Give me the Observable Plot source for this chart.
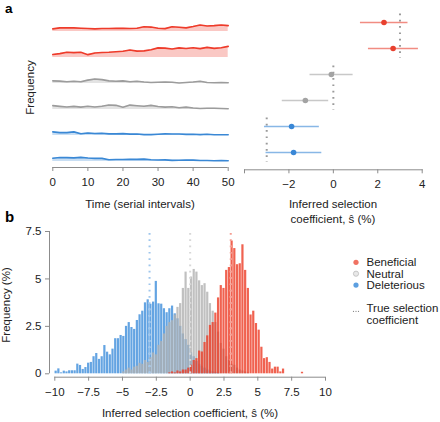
<!DOCTYPE html>
<html><head><meta charset="utf-8">
<script src="https://cdn.jsdelivr.net/npm/d3@7"></script>
<script src="https://cdn.jsdelivr.net/npm/@observablehq/plot@0.6"></script>
<style>
body{margin:0;background:#fff;}
#root{position:relative;width:440px;height:422px;overflow:hidden;}
#root svg{position:absolute;}
</style></head><body><div id="root"></div>
<script>
// ---------- DATA ----------
const types = ["Beneficial", "Neutral", "Deleterious"];
const rowIds = ["b1", "b2", "n1", "n2", "d1", "d2"];
const rowTypes = ["Beneficial", "Beneficial", "Neutral", "Neutral", "Deleterious", "Deleterious"];

// panel a, left: allele frequency (%) over time (serial intervals)
const times = [0,2,4,6,8,10,12,14,16,18,20,22,24,26,28,30,32,34,36,38,40,42,44,46,48,50];
const freqB1 = [5.0,7.0,6.9,6.9,6.3,5.7,5.0,5.7,5.7,6.0,6.3,5.7,6.3,9.0,8.5,6.3,5.5,9.0,8.3,7.0,9.5,12.5,10.7,11.3,12.5,11.3];
const freqB2 = [5.7,7.5,10.0,9.4,10.0,5.5,8.8,9.7,10.0,11.0,12.0,14.5,12.3,12.8,15.0,18.5,18.0,16.3,18.5,17.3,18.9,17.0,19.5,17.6,18.9,21.4];
const freqN1 = [5.0,4.5,3.3,4.2,3.3,6.5,8.8,7.5,5.0,4.4,5.0,3.3,4.2,2.8,2.0,2.5,2.8,2.5,1.0,2.0,3.0,4.4,1.8,1.5,2.0,1.3];
const freqN2 = [7.5,6.0,4.8,6.0,4.6,6.3,4.8,6.3,8.8,8.0,4.2,8.5,7.3,6.3,8.0,5.8,4.6,5.4,3.5,4.5,3.0,2.0,2.4,2.5,1.9,1.3];
const freqD1 = [6.9,5.5,5.5,7.0,3.4,4.8,3.9,4.4,3.1,3.2,3.6,2.7,2.8,1.7,1.6,2.4,3.1,2.8,2.9,2.2,2.4,1.6,2.3,1.5,1.3,1.3];
const freqD2 = [6.3,7.8,7.5,6.9,8.0,6.6,6.0,6.0,3.3,3.8,3.9,4.3,4.0,4.6,3.3,3.0,3.2,2.2,2.3,2.9,2.7,2.0,1.9,1.4,1.8,1.3];
const timeTicks = [0,10,20,30,40,50];

// panel a, right: inferred selection coefficient (%) with intervals
const sHat = [2.28, 2.69, -0.09, -1.26, -1.88, -1.79];
const ciLow = [1.22, 1.58, -1.05, -2.30, -3.10, -3.03];
const ciHigh = [3.36, 3.83, 0.89, -0.21, -0.63, -0.52];
const trueS = [3, 0, -3];
const trueRows = [["b1","b2"], ["n1","n2"], ["d1","d2"]];
const sTicks = [-4, -2, 0, 2, 4];

// panel b: histogram of inferred s (%), bins of 0.2
const binWidth = 0.2;
const delStart = -10;
const delFreq = [0.14,0.26,0.05,0.14,0.10,0.16,0.16,0.16,0.51,0.44,0.23,0.33,0.56,0.60,0.90,1.07,0.76,0.90,1.49,1.14,1.00,1.30,1.85,1.85,2.02,1.97,2.50,2.70,2.44,2.34,2.81,3.11,3.30,3.74,3.90,3.67,3.78,4.87,3.69,3.67,3.43,3.22,3.43,3.57,3.16,2.90,2.50,2.10,1.80,1.50,1.10,0.90,0.65,0.50,0.40,0.30,0.20,0.15,0.10,0.08,0.05];
const neuStart = -5;
const neuFreq = [0.10,0.20,0.30,0.20,0.35,0.40,0.55,0.50,0.70,0.60,0.85,1.10,1.00,1.50,1.70,2.10,2.50,2.70,2.80,3.10,3.50,3.70,4.50,5.36,4.50,5.10,5.50,5.36,4.90,4.65,4.75,4.30,3.70,3.30,2.70,2.20,1.60,1.30,0.90,0.70,0.50,0.45,0.30,0.20,0.15,0.10,0.05];
const benStart = -1.6;
const benFreq = [0.05,0.10,0.05,0.15,0.10,0.20,0.20,0.30,0.45,0.70,0.80,1.20,1.15,1.65,2.00,2.55,2.70,3.20,4.00,4.65,4.50,5.45,5.60,7.00,6.60,5.75,5.80,6.80,5.45,4.50,3.10,3.30,2.65,2.30,1.40,0.80,0.85,0.60,0.25,0.35,0.35,0.10,0.25,0,0,0,0,0,0,0.08];
const histTicksX = [-10,-7.5,-5,-2.5,0,2.5,5,7.5,10];
const histTicksY = [0,2.5,5,7.5];

// ---------- STYLE ----------
const ff = '"Liberation Sans", Arial, Helvetica, sans-serif';
const textColor = "#222";
const axisGrey = "#8c8c8c";
const baseStyle = {fontFamily: ff, fontSize: "11.5px", color: textColor, background: "transparent", overflow: "visible"};
const tsColors = ["#ee3b2a", "#9c9c9c", "#3a88d5"];
const dotColors = ["#e8402e", "#a3a3a3", "#3987d6"];
const histColors = ["#ec3b24", "#b0b0b0", "#3d8ddb"];
const fmt = d => (d < 0 ? "\u2212" : "") + Math.abs(d);

// ---------- TABLES ----------
const series = [freqB1, freqB2, freqN1, freqN2, freqD1, freqD2];
const tsTable = rowIds.flatMap((id, i) => times.map((t, j) => ({row: id, type: rowTypes[i], t, f: series[i][j]})));
const dotTable = rowIds.map((id, i) => ({row: id, type: rowTypes[i], s: sHat[i], lo: ciLow[i], hi: ciHigh[i]}));
const trueTable = types.map((t, i) => ({type: t, s: trueS[i], r1: trueRows[i][0], r2: trueRows[i][1]}));
const histSpec = [["Deleterious", delStart, delFreq], ["Neutral", neuStart, neuFreq], ["Beneficial", benStart, benFreq]];
const histTable = histSpec.flatMap(([type, start, fr]) => fr.map((v, k) => ({type, x1: start + k * binWidth, x2: start + (k + 1) * binWidth, freq: v}))).filter(d => d.freq > 0);

const root = document.getElementById("root");
function place(el, left, top) { el.style.left = left + "px"; el.style.top = top + "px"; root.appendChild(el); }

// ---------- PANEL a, left ----------
const left = Plot.plot({
  width: 234, height: 195,
  marginLeft: 52.3, marginRight: 6.3, marginTop: 3.3, marginBottom: 31.7,
  style: baseStyle,
  x: {domain: [times[0], times[times.length - 1]]},
  y: {domain: [0, 50], axis: null},
  fy: {domain: rowIds, padding: 0, axis: null},
  color: {domain: types, range: tsColors},
  marks: [
    Plot.areaY(tsTable, {x: "t", y1: 0, y2: "f", fy: "row", fill: "type", fillOpacity: 0.28}),
    Plot.lineY(tsTable, {x: "t", y: "f", fy: "row", stroke: "type", strokeWidth: 1.6}),
    Plot.ruleY([rowIds[rowIds.length - 1]], {fy: d => d, y: 0, x1: times[0], x2: times[times.length - 1], dy: 6, stroke: axisGrey}),
    Plot.axisX(timeTicks, {tickSize: 4, tickPadding: 6.5, dy: 6, stroke: axisGrey, fill: textColor, label: null, tickFormat: fmt})
  ]
});
place(left, 0, 0);

// ---------- PANEL a, right ----------
const right = Plot.plot({
  width: 206, height: 195,
  marginLeft: 10, marginRight: 18.3, marginTop: 7.45, marginBottom: 25.7,
  style: baseStyle,
  x: {domain: [sTicks[0], sTicks[sTicks.length - 1]]},
  y: {type: "band", domain: rowIds, padding: 0, range: [7.45, 166.45], axis: null},
  color: {domain: types, range: dotColors},
  marks: [
    Plot.ruleX(trueTable, {x: "s", y1: "r1", y2: "r2", stroke: "#9a9a9a", strokeWidth: 2, strokeDasharray: "1.7,4.6", insetTop: 4.5, insetBottom: 3}),
    Plot.ruleY(dotTable, {y: "row", x1: "lo", x2: "hi", stroke: "type", strokeWidth: 1.3, strokeOpacity: 0.6}),
    Plot.dot(dotTable, {x: "s", y: "row", fill: "type", r: 2.8}),
    Plot.frame({anchor: "bottom", stroke: axisGrey}),
    Plot.axisX(sTicks, {tickSize: 4, tickPadding: 6.5, stroke: axisGrey, fill: textColor, label: null, tickFormat: d => d === sTicks[0] ? "" : fmt(d)})
  ]
});
place(right, 234, 0);

// ---------- PANEL b ----------
const hist = Plot.plot({
  width: 440, height: 200,
  marginLeft: 54.3, marginRight: 115, marginTop: 9, marginBottom: 48.7,
  style: baseStyle,
  x: {domain: [histTicksX[0], histTicksX[histTicksX.length - 1]]},
  y: {domain: [histTicksY[0], histTicksY[histTicksY.length - 1]]},
  color: {domain: types, range: histColors},
  marks: [
    Plot.rectY(histTable, {x1: "x1", x2: "x2", y1: 0, y2: "freq", fill: "type", fillOpacity: 0.8, insetLeft: 0.25, insetRight: 0.25}),
    Plot.ruleX(trueTable, {x: "s", y1: 0, y2: 7.5, stroke: "white", strokeWidth: 2, strokeDasharray: "1.7,4.6", insetBottom: -2}),
    Plot.ruleX(trueTable, {x: "s", y1: 0, y2: 7.5, stroke: "type", strokeOpacity: 0.5, strokeWidth: 2, strokeDasharray: "1.7,4.6", insetBottom: -2}),
    Plot.ruleY([0], {x1: -10, x2: 10, dy: 3.4, stroke: axisGrey}),
    Plot.ruleX([-10], {y1: 0, y2: 7.5, dx: -5.3, stroke: axisGrey}),
    Plot.axisX(histTicksX, {tickSize: 4, tickPadding: 7, dy: 3.4, stroke: axisGrey, fill: textColor, label: null, tickFormat: fmt}),
    Plot.axisY(histTicksY, {tickSize: 4, tickPadding: 4, dx: -5.3, stroke: axisGrey, fill: textColor, label: null, tickFormat: fmt})
  ]
});
place(hist, 0, 222);

// ---------- TEXT OVERLAY + LEGEND ----------
const ov = d3.select(root).append("svg")
  .attr("width", 440).attr("height", 422)
  .style("left", "0px").style("top", "0px").style("pointer-events", "none")
  .attr("font-family", ff).attr("font-size", 11.5).attr("fill", textColor);

ov.append("text").attr("x", 5).attr("y", 12.8).attr("font-weight", "bold").attr("font-size", 13.5).attr("fill", "#000").text("a");
ov.append("text").attr("x", 5).attr("y", 222).attr("font-weight", "bold").attr("font-size", 15).attr("fill", "#000").text("b");
ov.append("text").attr("transform", "translate(33.5,87.5) rotate(-90)").attr("text-anchor", "middle").text("Frequency");
ov.append("text").attr("x", 140).attr("y", 207.5).attr("text-anchor", "middle").text("Time (serial intervals)");
ov.append("text").attr("x", 333).attr("y", 207.8).attr("text-anchor", "middle").text("Inferred selection");
ov.append("text").attr("x", 333).attr("y", 223.3).attr("text-anchor", "middle").text("coefficient, \u015D (%)");
ov.append("text").attr("transform", "translate(10,305) rotate(-90)").attr("text-anchor", "middle").text("Frequency (%)");
ov.append("text").attr("x", 190).attr("y", 416.8).attr("text-anchor", "middle").text("Inferred selection coefficient, \u015D (%)");

const legFill = ["#f07262", "#e8e8e8", "#5c9fe0"];
const legStroke = ["none", "#bdbdbd", "none"];
types.forEach((t, i) => {
  const cy = 262.3 + i * 11.4;
  ov.append("circle").attr("cx", 356).attr("cy", cy).attr("r", 2.6).attr("fill", legFill[i]).attr("stroke", legStroke[i]).attr("stroke-width", 0.8);
  ov.append("text").attr("x", 366.5).attr("y", cy + 3.9).text(t);
});
[353.5, 356, 358.5].forEach(x => ov.append("circle").attr("cx", x).attr("cy", 311.3).attr("r", 0.6).attr("fill", "#777"));
ov.append("text").attr("x", 366.5).attr("y", 311.5).text("True selection");
ov.append("text").attr("x", 366.5).attr("y", 323.6).text("coefficient");
</script>
</body></html>
